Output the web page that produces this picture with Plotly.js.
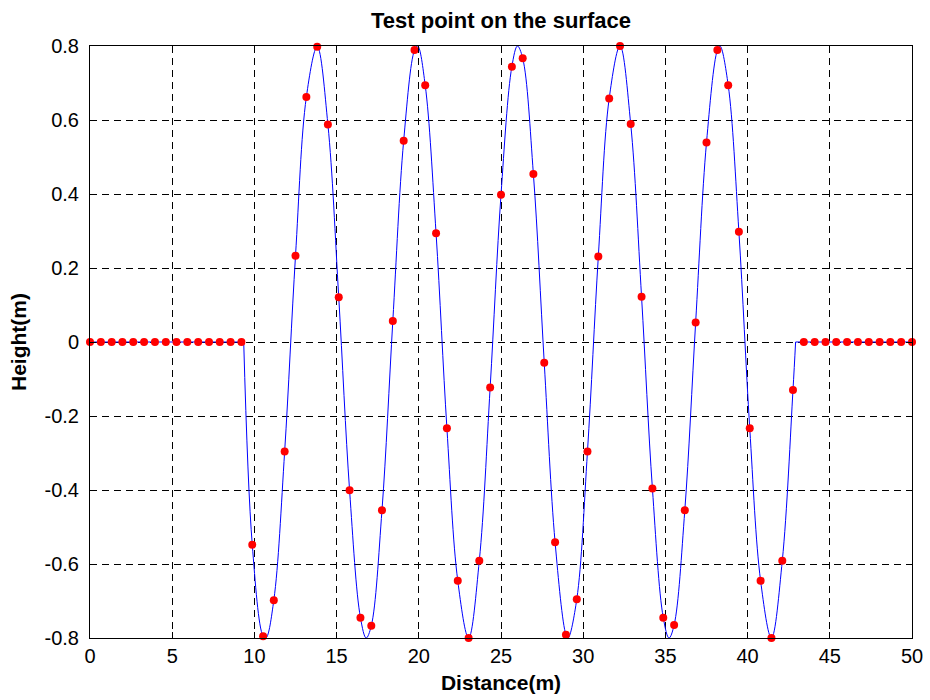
<!DOCTYPE html>
<html><head><meta charset="utf-8">
<script src="https://cdn.plot.ly/plotly-3.0.1.min.js"></script>
<style>html,body{margin:0;padding:0;background:#fff}#chart{width:930px;height:700px}</style>
</head><body><div id="chart"></div>
<script>
// Sampled test points (red dots)
const sampleX = [0.00,0.66,1.32,1.97,2.63,3.29,3.95,4.61,5.26,5.92,6.58,7.24,7.89,8.55,9.21,
  9.87,10.53,11.18,11.84,12.50,13.16,13.82,14.47,15.13,15.79,16.45,17.11,17.76,18.42,19.08,
  19.74,20.39,21.05,21.71,22.37,23.03,23.68,24.34,25.00,25.66,26.32,26.97,27.63,28.29,28.95,
  29.61,30.26,30.92,31.58,32.24,32.89,33.55,34.21,34.87,35.53,36.18,36.84,37.50,38.16,38.82,
  39.47,40.13,40.79,41.45,42.11,42.76,
  43.42,44.08,44.74,45.39,46.05,46.71,47.37,48.03,48.68,49.34,50.00];
const sampleY = [0,0,0,0,0,0,0,0,0,0,0,0,0,0,0,
  -0.548,-0.795,-0.698,-0.296,0.233,0.662,0.798,0.588,0.121,-0.401,-0.745,-0.767,-0.455,0.057,0.544,
  0.789,0.694,0.294,-0.233,-0.645,-0.800,-0.591,-0.123,0.398,0.744,0.767,0.454,-0.056,-0.541,-0.791,
  -0.695,-0.296,0.231,0.658,0.800,0.589,0.122,-0.396,-0.745,-0.765,-0.455,0.053,0.539,0.789,0.694,
  0.298,-0.233,-0.645,-0.800,-0.591,-0.130,
  0,0,0,0,0,0,0,0,0,0,0];

// Surface line (blue): flat parts and wave extrema
const flatLeftX = [0, 9.35];
const flatLeftY = [0, 0];
const flatRightX = [42.92, 50];
const flatRightY = [0, 0];
const extremaX = [10.70, 16.80, 19.93, 26.00, 29.08, 35.22, 38.32];
const extremaY = [-0.80, -0.80, 0.80, 0.80, -0.80, -0.80, 0.80];

const xTickVals = [0,5,10,15,20,25,30,35,40,45,50];
const yTickVals = [-0.8,-0.6,-0.4,-0.2,0,0.2,0.4,0.6,0.8];
const yTickText = ["-0.8","-0.6","-0.4","-0.2","0","0.2","0.4","0.6","0.8"];

// build wave polyline from read points
const wavePts = [];
wavePts.push([flatLeftX[1], flatLeftY[1]]);
for (let i = 0; i < sampleX.length; i++) {
  if (sampleX[i] > flatLeftX[1] && sampleX[i] < flatRightX[0]) wavePts.push([sampleX[i], sampleY[i]]);
}
for (let i = 0; i < extremaX.length; i++) wavePts.push([extremaX[i], extremaY[i]]);
wavePts.push([flatRightX[0], flatRightY[0]]);
wavePts.sort((a, b) => a[0] - b[0]);

const blue = '#0000ff';
const traces = [
  {x: flatLeftX, y: flatLeftY, mode: 'lines', line: {color: blue, width: 1}, hoverinfo: 'skip'},
  {x: wavePts.map(p => p[0]), y: wavePts.map(p => p[1]), mode: 'lines',
   line: {color: blue, width: 1, shape: 'spline', smoothing: 1}, hoverinfo: 'skip'},
  {x: flatRightX, y: flatRightY, mode: 'lines', line: {color: blue, width: 1}, hoverinfo: 'skip'},
  {x: sampleX, y: sampleY, mode: 'markers', cliponaxis: false,
   marker: {color: '#ff0000', size: 8, line: {width: 0}}}
];

const fontFam = '"Liberation Sans", Arial, Helvetica, sans-serif';
const layout = {
  width: 930, height: 700,
  margin: {l: 90, r: 18, t: 46, b: 62, pad: 0},
  paper_bgcolor: '#ffffff', plot_bgcolor: '#ffffff',
  showlegend: false,
  font: {family: fontFam, size: 20, color: '#000'},
  title: {text: 'Test point on the surface', x: 0.5, xref: 'paper', xanchor: 'center',
          y: 1 - 20/700, yref: 'container', yanchor: 'middle',
          font: {family: fontFam, size: 22, weight: 'bold', color: '#000'}},
  xaxis: {
    range: [0, 50], tickvals: xTickVals, ticks: 'inside', ticklen: 6, tickcolor: '#000',
    showline: true, linecolor: '#000', linewidth: 1, mirror: 'ticks',
    showgrid: true, gridcolor: '#000', gridwidth: 1, griddash: '7px,5px',
    zeroline: false, tickfont: {size: 20, family: fontFam},
    title: {text: 'Distance(m)', font: {size: 21, weight: 'bold', family: fontFam}, standoff: 9}
  },
  yaxis: {
    range: [-0.8, 0.8], tickvals: yTickVals, ticktext: yTickText, ticks: 'inside', ticklen: 6,
    tickcolor: '#000', showline: true, linecolor: '#000', linewidth: 1, mirror: 'ticks',
    showgrid: true, gridcolor: '#000', gridwidth: 1, griddash: '7px,5px',
    zeroline: false, tickfont: {size: 20, family: fontFam}, ticklabelstandoff: 6,
    title: {text: 'Height(m)', font: {size: 21, weight: 'bold', family: fontFam}, standoff: 12}
  }
};
Plotly.newPlot('chart', traces, layout, {staticPlot: true, displayModeBar: false});
</script></body></html>
